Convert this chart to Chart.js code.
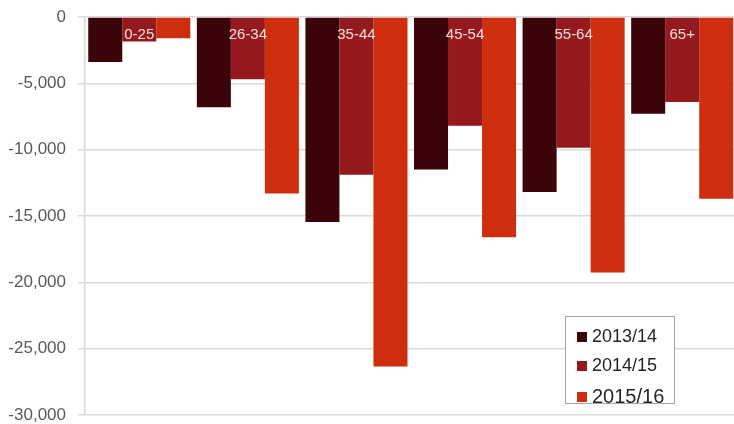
<!DOCTYPE html>
<html>
<head>
<meta charset="utf-8">
<script src="https://cdn.jsdelivr.net/npm/chart.js@4/dist/chart.umd.min.js"></script>
<style>
    html, body { margin: 0; padding: 0; background: #fff; overflow: hidden; }
    #wrap { position: absolute; left: 0; top: 0; width: 740px; height: 424px; }
    #legend {
        position: absolute; left: 565px; top: 316px; width: 108px; height: 86px;
        border: 1px solid #a6a6a6; background: #fff;
        font-family: "Liberation Sans", Arial, sans-serif; color: #262626;
    }
    .legend-item { position: absolute; left: 11px; display: flex; align-items: center; white-space: nowrap; }
    .legend-box { width: 10px; height: 10px; margin-right: 5px; }
</style>
</head>
<body>
<div id="wrap"><canvas id="chart"></canvas></div>
<div id="legend"></div>
<script>
    // --- Data ---
    const ageGroups = ['0-25', '26-34', '35-44', '45-54', '55-64', '65+'];
    const seriesNames = ['2013/14', '2014/15', '2015/16'];
    const values2013 = [-3400, -6800, -15450, -11500, -13200, -7300];
    const values2014 = [-1850, -4700, -11900, -8200, -9850, -6400];
    const values2015 = [-1600, -13300, -26350, -16600, -19250, -13700];
    const yTicks = [0, -5000, -10000, -15000, -20000, -25000, -30000];

    const colors = ['#3a0409', '#951a1d', '#cf2e0e'];
    const allValues = [values2013, values2014, values2015];

    const datasets = seriesNames.map((name, i) => ({
        label: name,
        data: allValues[i],
        backgroundColor: colors[i],
        borderWidth: 0,
        categoryPercentage: 0.94,
        barPercentage: 1.0
    }));

    // Legend box (drawn as html, built from the series)
    const legendEl = document.getElementById('legend');
    const legendTops = [9, 38, 68];
    const legendSizes = [18, 18, 20];
    seriesNames.forEach((name, i) => {
        const item = document.createElement('div');
        item.className = 'legend-item';
        item.style.top = legendTops[i] + 'px';
        item.style.fontSize = legendSizes[i] + 'px';
        item.innerHTML = `<span class="legend-box" style="background:${colors[i]}"></span><span>${name}</span>`;
        legendEl.appendChild(item);
    });

    // Category names sit inside the bars, near the top, over the middle bar
    const categoryLabels = {
        id: 'categoryLabels',
        afterDatasetsDraw(chart) {
            const c = chart.ctx;
            const xs = chart.scales.x;
            c.save();
            c.font = '15px "Liberation Sans"';
            c.fillStyle = 'rgba(255,238,238,0.92)';
            c.textAlign = 'center';
            c.textBaseline = 'middle';
            ageGroups.forEach((name, i) => {
                c.fillText(name, xs.getPixelForValue(i), chart.chartArea.top + 18);
            });
            c.restore();
        }
    };

    const ctx = document.getElementById('chart').getContext('2d');
    new Chart(ctx, {
        type: 'bar',
        data: { labels: ageGroups, datasets: datasets },
        plugins: [categoryLabels],
        options: {
            responsive: true,
            maintainAspectRatio: false,
            animation: false,
            layout: { padding: { top: 17, right: 3.5, bottom: 9, left: 0 } },
            plugins: { legend: { display: false }, tooltip: { enabled: false } },
            scales: {
                x: {
                    display: false
                },
                y: {
                    min: -30000,
                    max: 0,
                    afterBuildTicks: function(scale) {
                        scale.ticks = yTicks.map(v => ({ value: v }));
                    },
                    grid: { color: '#d9d9d9', lineWidth: 1.5, tickLength: 7 },
                    border: { color: '#d9d9d9', width: 1.5 },
                    ticks: {
                        padding: 12,
                        color: '#595959',
                        font: { family: 'Liberation Sans', size: 17 },
                        callback: function(v) { return Number(v).toLocaleString('en-US'); }
                    },
                    afterFit: function(scale) {
                        scale.width = 85;
                        scale.paddingTop = 0;
                        scale.paddingBottom = 0;
                    }
                }
            }
        }
    });
</script>
</body>
</html>
